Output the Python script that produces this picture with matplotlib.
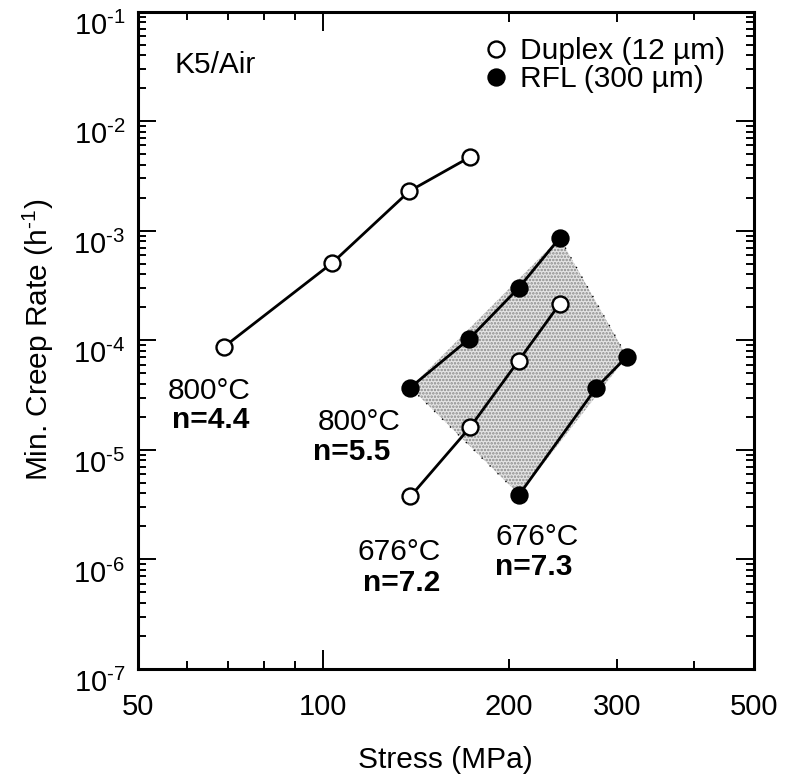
import matplotlib
matplotlib.use("Agg")
import matplotlib.pyplot as plt
from matplotlib.lines import Line2D
from matplotlib.patches import Polygon
from matplotlib.ticker import FixedLocator, NullFormatter, FuncFormatter
import numpy as np

plt.rcParams['font.family'] = ['Liberation Sans', 'DejaVu Sans']
plt.rcParams['mathtext.default'] = 'regular'
plt.rcParams['hatch.linewidth'] = 1.2

# Minimum creep rate vs. applied stress, K5 tested in air
duplex_800_stress = [69.0, 103.5, 138.0, 173.0]
duplex_800_rate = [8.7e-5, 5.1e-4, 2.3e-3, 4.7e-3]

rfl_800_stress = [138.5, 172.5, 207.5, 242.0]
rfl_800_rate = [3.7e-5, 1.03e-4, 3.0e-4, 8.6e-4]

duplex_676_stress = [138.5, 173.0, 207.5, 242.0]
duplex_676_rate = [3.75e-6, 1.6e-5, 6.5e-5, 2.15e-4]

rfl_676_stress = [208.0, 277.5, 311.0]
rfl_676_rate = [3.9e-6, 3.7e-5, 7.1e-5]

x_tick_values = [50, 100, 200, 300, 500]
x_tick_labels = ["50", "100", "200", "300", "500"]
y_decades = [1e-7, 1e-6, 1e-5, 1e-4, 1e-3, 1e-2, 1e-1]

FS = 21.5
HY = '\u2010'

fig = plt.figure(figsize=(7.87, 7.76), dpi=100)
ax = fig.add_axes([0.175, 0.138, 0.783, 0.847])
ax.set_xscale('log')
ax.set_yscale('log')
ax.set_xlim(50, 500)
ax.set_ylim(1e-7, 1e-1)

# shaded band spanned by the two RFL data sets
band = [
    (rfl_800_stress[0], rfl_800_rate[0]),
    (rfl_800_stress[-1], rfl_800_rate[-1]),
    (rfl_676_stress[-1], rfl_676_rate[-1]),
    (rfl_676_stress[0], rfl_676_rate[0]),
]
ax.add_patch(Polygon(band, closed=True, facecolor='#e4e4e4', edgecolor='none', zorder=1))
ax.add_patch(Polygon(band, closed=True, fill=False, hatch='.....', edgecolor='#8a8a8a',
                     linewidth=0, zorder=1))
ax.plot([rfl_800_stress[0], rfl_676_stress[0]], [rfl_800_rate[0], rfl_676_rate[0]],
        color='black', lw=1.0, ls=(0, (1, 7)), zorder=2)
ax.plot([rfl_800_stress[-1], rfl_676_stress[-1]], [rfl_800_rate[-1], rfl_676_rate[-1]],
        color='black', lw=1.0, ls=(0, (1, 7)), zorder=2)

open_style = dict(color='black', lw=2.0, marker='o', ms=11.5, mfc='white', mec='black',
                  mew=1.7, zorder=3)
filled_style = dict(color='black', lw=2.0, marker='o', ms=11.5, mfc='black', mec='black',
                    mew=1.7, zorder=3)
ax.plot(duplex_800_stress, duplex_800_rate, **open_style)
ax.plot(rfl_800_stress, rfl_800_rate, **filled_style)
ax.plot(duplex_676_stress, duplex_676_rate, **open_style)
ax.plot(rfl_676_stress, rfl_676_rate, **filled_style)

# axes styling
for sp in ax.spines.values():
    sp.set_linewidth(2.2)

ax.xaxis.set_major_locator(FixedLocator(x_tick_values))
ax.set_xticklabels(x_tick_labels)
ax.xaxis.set_minor_locator(FixedLocator([60, 70, 80, 90, 400]))
ax.xaxis.set_minor_formatter(NullFormatter())

y_minor = [m * d for d in y_decades[:-1] for m in range(2, 10)]
ax.yaxis.set_major_locator(FixedLocator(y_decades))
ax.yaxis.set_minor_locator(FixedLocator(y_minor))
ax.yaxis.set_major_formatter(FuncFormatter(
    lambda v, p: f"$10^{{{HY}{int(round(-np.log10(v)))}}}$"))
ax.yaxis.set_minor_formatter(NullFormatter())

ax.tick_params(which='both', direction='in', top=True, right=True, width=1.4,
               labelsize=FS - 0.5)
ax.tick_params(axis='y', which='major', length=13, pad=9)
ax.tick_params(axis='y', which='minor', length=6)
ax.tick_params(axis='x', which='major', length=7, pad=17)
ax.tick_params(axis='x', which='minor', length=6)
for tick in ax.xaxis.get_major_ticks():
    if tick.get_loc() == 100:
        tick.tick1line.set_markersize(14)
        tick.tick2line.set_markersize(14)

fig.canvas.draw()
for lab in ax.get_yticklabels():
    lab.set_verticalalignment('top')

ax.set_xlabel('Stress (MPa)', fontsize=FS, labelpad=18)
ax.set_ylabel(f'Min. Creep Rate (h$^{{{HY}1}}$)', fontsize=FS, labelpad=12)

# annotations
ax.text(0.06, 0.919, 'K5/Air', transform=ax.transAxes, fontsize=FS, va='center')
ax.text(0.049, 0.423, '800°C', transform=ax.transAxes, fontsize=FS, va='center')
ax.text(0.055, 0.379, 'n=4.4', transform=ax.transAxes, fontsize=FS, va='center',
        fontweight='bold')
ax.text(0.292, 0.376, '800°C', transform=ax.transAxes, fontsize=FS, va='center')
ax.text(0.284, 0.330, 'n=5.5', transform=ax.transAxes, fontsize=FS, va='center',
        fontweight='bold')
ax.text(0.357, 0.178, '676°C', transform=ax.transAxes, fontsize=FS, va='center')
ax.text(0.365, 0.131, 'n=7.2', transform=ax.transAxes, fontsize=FS, va='center',
        fontweight='bold')
ax.text(0.580, 0.201, '676°C', transform=ax.transAxes, fontsize=FS, va='center')
ax.text(0.580, 0.155, 'n=7.3', transform=ax.transAxes, fontsize=FS, va='center',
        fontweight='bold')

handles = [
    Line2D([], [], ls='none', marker='o', ms=11.5, mfc='white', mec='black', mew=1.7),
    Line2D([], [], ls='none', marker='o', ms=11.5, mfc='black', mec='black', mew=1.7),
]
ax.legend(handles, ['Duplex (12 µm)', 'RFL (300 µm)'], loc='upper right',
          bbox_to_anchor=(0.995, 1.0), frameon=False, fontsize=FS, handlelength=0.8,
          handletextpad=0.4, labelspacing=0.0, borderpad=0.35)

fig.savefig('out.png', dpi=100)
